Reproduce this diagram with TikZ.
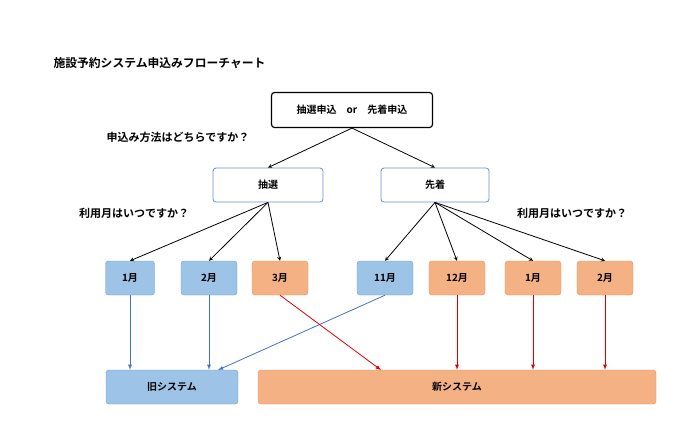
\documentclass[tikz,border=0pt]{standalone}
\usepackage{fontspec}
\setmainfont{Noto Sans CJK JP}[BoldFont={* Bold}]
\usetikzlibrary{positioning}
\definecolor{oldfill}{HTML}{9DC3E6}
\definecolor{olddraw}{HTML}{6D9ACC}
\definecolor{newfill}{HTML}{F4B183}
\definecolor{newdraw}{HTML}{EE8D5E}
\definecolor{oldline}{HTML}{4472C4}
\definecolor{newline}{HTML}{E00000}
\tikzset{
  box/.style={draw, rounded corners=3pt, minimum height=34pt, font=\bfseries\fontsize{10}{12}\selectfont},
  choice/.style={box, draw=oldline!80, fill=white, thick, minimum width=110pt},
  oldm/.style={box, fill=oldfill, draw=olddraw, minimum width=52pt},
  newm/.style={box, fill=newfill, draw=newdraw, minimum width=56pt},
  q/.style={font=\bfseries\fontsize{11}{13}\selectfont},
  blk/.style={-stealth, thick},
  toold/.style={-latex, oldline, thick},
  tonew/.style={-latex, newline, thick},
}
\begin{document}
\begin{tikzpicture}[x=1pt,y=-1pt]
  \useasboundingbox (0,0) rectangle (700,432);

  %title and questions
  \node[q, anchor=west, font=\bfseries\fontsize{11.8}{13}\selectfont] (title) at (50,63) {施設予約システム申込みフローチャート};
  \node[q] (ask1) at (178,137) {申込み方法はどちらですか？};
  \node[q] (ask2) at (134,213) {利用月はいつですか？};
  \node[q] (ask3) at (572,213) {利用月はいつですか？};

  %top and choices
  \node[box, very thick, minimum width=161pt, minimum height=35pt] (top) at (352,110) {抽選申込\quad or\quad 先着申込};
  \node[choice] (lot) at (268,185) {抽選};
  \node[choice, minimum width=108pt] (first) at (435,185) {先着};

  %months
  \node[oldm, minimum width=49pt] (m1) at (130,278) {1月};
  \node[oldm, minimum width=56pt] (m2) at (209,278) {2月};
  \node[newm] (m3) at (280,278) {3月};
  \node[oldm, minimum width=56pt] (m11) at (385,278) {11月};
  \node[newm] (m12) at (457,278) {12月};
  \node[newm] (n1) at (533,278) {1月};
  \node[newm] (n2) at (605,278) {2月};

  %systems
  \node[oldm, minimum width=132pt] (old) at (172,387) {旧システム};
  \node[newm, minimum width=398pt] (new) at (457,387) {新システム};

  \draw[blk] (top.south) -- (lot.north);
  \draw[blk] (top.south) -- (first.north);
  \foreach \m in {m1,m2,m3}
    \draw[blk] (lot.south) -- (\m.north);
  \foreach \m in {m11,m12,n1,n2}
    \draw[blk] (first.south) -- (\m.north);

  \coordinate (oldin) at (218,370);
  \coordinate (newin) at (381,370);
  \draw[toold] (m1.south) -- (m1.south |- old.north);
  \draw[toold] (m2.south) -- (m2.south |- old.north);
  \draw[toold] (m11.south) -- (oldin);
  \draw[tonew] (m3.south) -- (newin);
  \foreach \m in {m12,n1,n2}
    \draw[tonew] (\m.south) -- (\m.south |- new.north);
\end{tikzpicture}
\end{document}
